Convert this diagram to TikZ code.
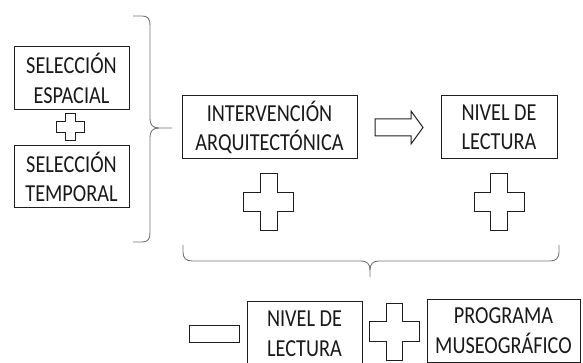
\documentclass[tikz,border=0pt]{standalone}
\usepackage{fontspec}
\setmainfont{Carlito}
\newfontfamily\boxfont[FakeStretch=0.83]{Carlito}
\definecolor{brcol}{RGB}{115,115,115}
\definecolor{lncol}{RGB}{30,30,30}
\newcommand\drawcross[6]{%
 \draw[crossline] (#1-#5,#2-#4) -- (#1+#5,#2-#4) -- (#1+#5,#2-#6) -- (#1+#3,#2-#6) -- (#1+#3,#2+#6) -- (#1+#5,#2+#6) -- (#1+#5,#2+#4) -- (#1-#5,#2+#4) -- (#1-#5,#2+#6) -- (#1-#3,#2+#6) -- (#1-#3,#2-#6) -- (#1-#5,#2-#6) -- cycle;}
\begin{document}
\begin{tikzpicture}[x=1pt,y=-1pt,
  txtbox/.style={draw=lncol, line width=1pt, align=center, inner sep=0pt,
    font=\boxfont\fontsize{24.4}{29.5}\selectfont, text=black!90},
  crossline/.style={draw=lncol, line width=1pt, line join=miter},
  bracel/.style={draw=brcol, line width=0.9pt}]
\useasboundingbox (0,0) rectangle (583,363);
% boxes
\node[txtbox, minimum width=115pt, minimum height=63pt] (sel1) at (71.5,78.5) {SELECCIÓN\\ESPACIAL};
\node[txtbox, minimum width=115pt, minimum height=62pt] (sel2) at (71.5,177) {SELECCIÓN\\TEMPORAL};
\node[txtbox, minimum width=175pt, minimum height=63pt] (interv) at (269.5,127.5) {INTERVENCIÓN\\ARQUITECTÓNICA};
\node[txtbox, minimum width=116pt, minimum height=63pt] (niv1) at (499,127.5) {NIVEL DE\\LECTURA};
\node[txtbox, minimum width=115pt, minimum height=66pt] (niv2) at (304.5,334) {NIVEL DE\\LECTURA};
\node[txtbox, minimum width=153pt, minimum height=63pt] (prog) at (503.5,330.5) {PROGRAMA\\MUSEOGRÁFICO};
% crosses
\drawcross{70.5}{127.5}{14}{13.5}{5}{5.5}
\drawcross{268.5}{202.5}{25}{28.5}{8.5}{9.5}
\drawcross{499}{202.5}{25}{28.5}{8.5}{9.5}
\drawcross{394.5}{331.5}{25}{28.5}{8}{10}
% minus
\draw[crossline] (189,325) rectangle (239,342);
% arrow
\draw[crossline] (375,119) -- (411,119) -- (411,111) -- (423,127.5) -- (411,144) -- (411,136) -- (375,136) -- cycle;
% left brace
\draw[bracel] (133,16) -- (142,16) .. controls (148,16) and (150,19) .. (150,25) -- (150,119)
  .. controls (150,125) and (153,128) .. (159,128) -- (172,128);
\draw[bracel] (159,128) .. controls (153,128) and (150,131) .. (150,137) -- (150,233)
  .. controls (150,239) and (148,242) .. (142,242) -- (133,242);
% bottom brace
\draw[bracel] (183,245) -- (183,252) .. controls (183,258) and (186,261) .. (192,261) -- (361,261)
  .. controls (367,261) and (370,264) .. (370,270) -- (370,277);
\draw[bracel] (370,270) .. controls (370,264) and (373,261) .. (379,261) -- (550,261)
  .. controls (556,261) and (559,258) .. (559,252) -- (559,245);
\end{tikzpicture}
\end{document}
